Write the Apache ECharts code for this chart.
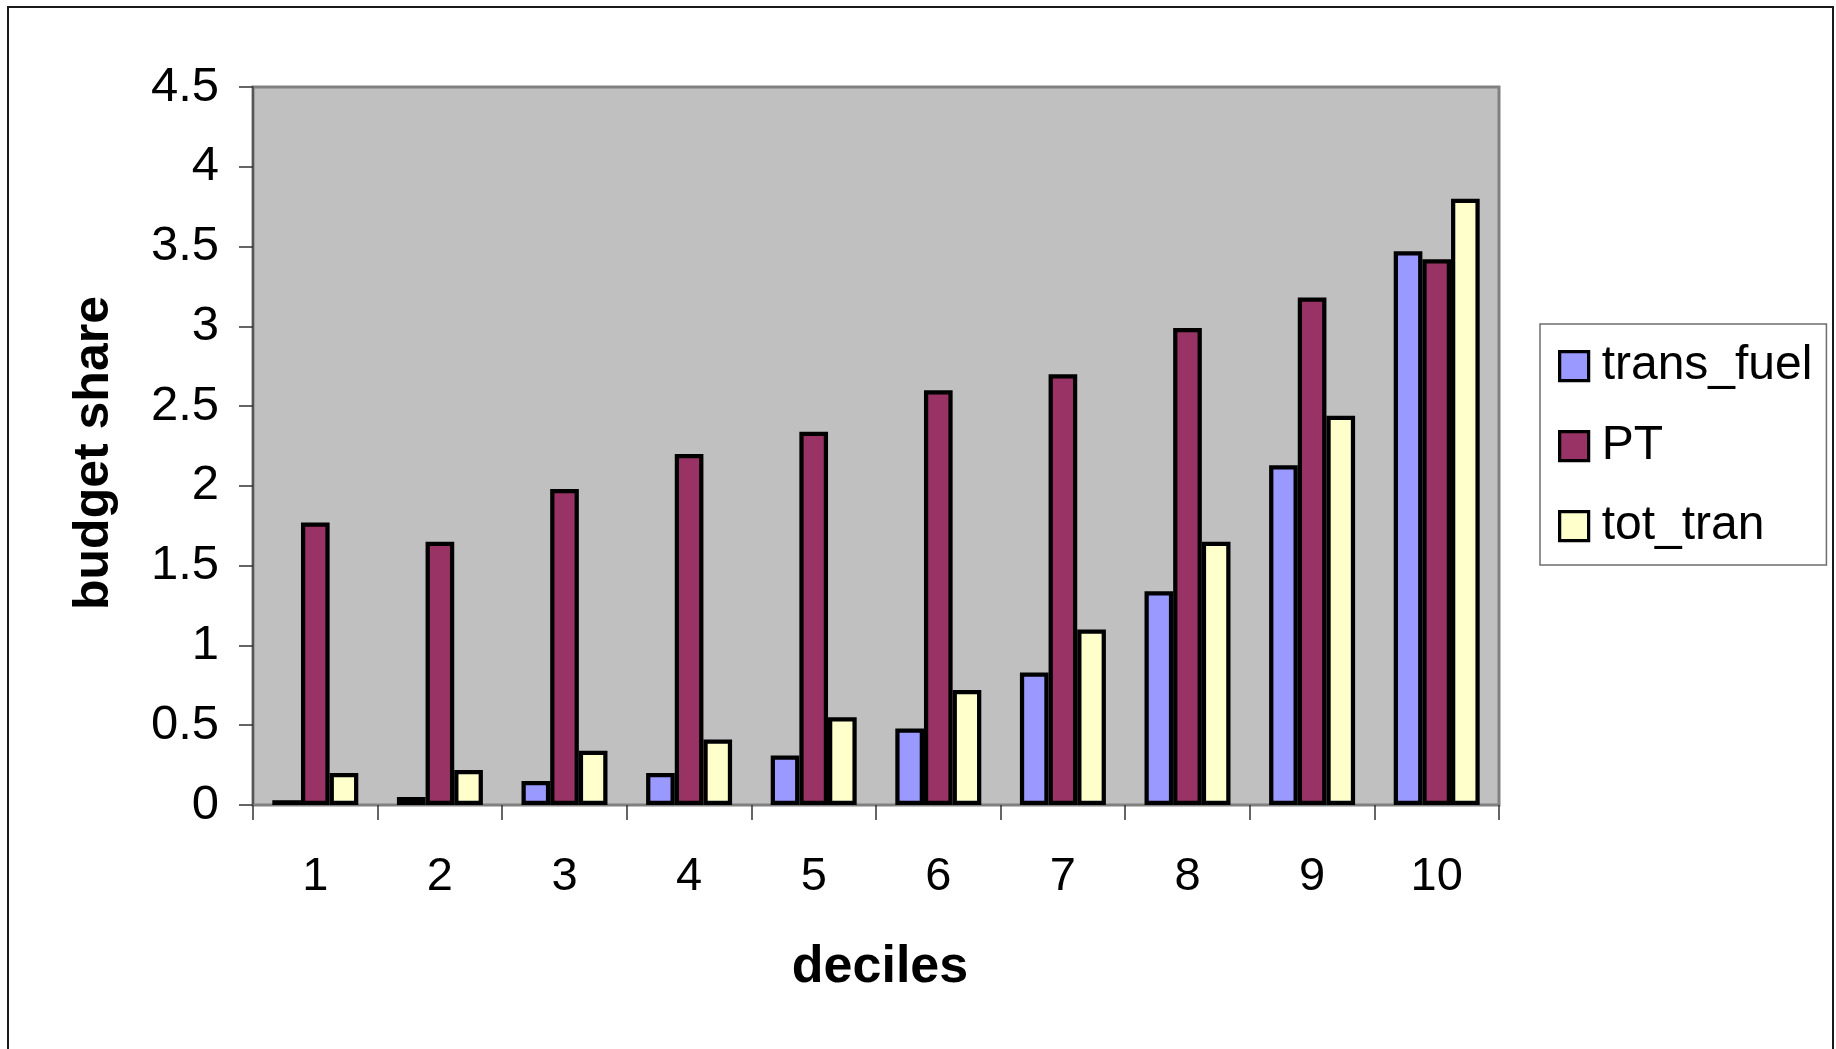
<!DOCTYPE html>
<html>
<head>
<meta charset="utf-8">
<title>budget share by decile</title>
<script src="https://cdn.jsdelivr.net/npm/echarts@6/dist/echarts.min.js"></script>
<style>
  html, body { margin: 0; padding: 0; background: #ffffff; }
  #chart { width: 1836px; height: 1049px; }
</style>
</head>
<body>
<div id="chart"></div>
<script>
// Income deciles on the category axis
const deciles = ['1', '2', '3', '4', '5', '6', '7', '8', '9', '10'];

// Budget share per decile for each spending group
const transFuel = [0.03, 0.05, 0.15, 0.2, 0.31, 0.48, 0.83, 1.34, 2.13, 3.47];
const pt        = [1.77, 1.65, 1.98, 2.2, 2.34, 2.6, 2.7, 2.99, 3.18, 3.42];
const totTran   = [0.2, 0.22, 0.34, 0.41, 0.55, 0.72, 1.1, 1.65, 2.44, 3.8];

// Value-axis tick labels, 0 to 4.5 in steps of 0.5
const yTickLabels = ['0', '0.5', '1', '1.5', '2', '2.5', '3', '3.5', '4', '4.5'];

const FONT = "'Liberation Sans', Arial, sans-serif";

const chart = echarts.init(document.getElementById('chart'), null, { renderer: 'canvas' });

function barSeries(name, data, color) {
  return {
    name: name,
    type: 'bar',
    data: data,
    barGap: '0%',
    barCategoryGap: '31%',
    itemStyle: { color: color, borderColor: '#000000', borderWidth: 4.25 },
    emphasis: { disabled: true }
  };
}

chart.setOption({
  backgroundColor: '#ffffff',
  animation: false,
  textStyle: { fontFamily: FONT },
  graphic: [{
    type: 'rect',
    shape: { x: 8, y: 7, width: 1825, height: 1080 },
    style: { fill: 'none', stroke: '#1a1a1a', lineWidth: 2 },
    silent: true,
    z: -1
  }],
  grid: {
    left: 253, top: 87, width: 1246, height: 718,
    show: true,
    backgroundColor: '#c0c0c0',
    borderColor: '#808080',
    borderWidth: 3
  },
  legend: {
    orient: 'vertical',
    left: 1540, top: 324,
    padding: [17, 14, 14, 18],
    itemWidth: 29, itemHeight: 29,
    itemGap: 30,
    borderColor: '#6e6e6e', borderWidth: 1.5,
    backgroundColor: '#ffffff',
    icon: 'rect',
    itemStyle: { borderColor: '#000000', borderWidth: 3.25 },
    textStyle: { fontFamily: FONT, fontSize: 48, color: '#000000', lineHeight: 50, padding: [0, 0, 0, 8] },
    data: ['trans_fuel', 'PT', 'tot_tran']
  },
  xAxis: {
    type: 'category',
    data: deciles,
    name: 'deciles',
    nameLocation: 'middle',
    nameGap: 137,
    nameTextStyle: { fontFamily: FONT, fontSize: 52, fontWeight: 'bold', color: '#000000', padding: [0, 0, 0, 8] },
    axisLine: { lineStyle: { color: '#808080', width: 2 } },
    axisTick: { show: true, alignWithLabel: false, length: 15, lineStyle: { color: '#333333', width: 1.5 } },
    axisLabel: { fontFamily: FONT, fontSize: 47, color: '#000000', margin: 49 },
    splitLine: { show: false }
  },
  yAxis: {
    type: 'value',
    min: 0, max: 4.5, interval: 0.5,
    name: 'budget share',
    nameLocation: 'middle',
    nameRotate: 90,
    nameGap: 134,
    nameTextStyle: { fontFamily: FONT, fontSize: 50, fontWeight: 'bold', color: '#000000', padding: [0, 14, 0, 0] },
    axisLine: { show: true, lineStyle: { color: '#555555', width: 2 } },
    axisTick: { show: true, length: 14, lineStyle: { color: '#333333', width: 1.5 } },
    axisLabel: {
      fontFamily: FONT, fontSize: 49, color: '#000000', margin: 34,
      formatter: function (v) { return yTickLabels[Math.round(v / 0.5)]; }
    },
    splitLine: { show: false }
  },
  series: [
    barSeries('trans_fuel', transFuel, '#9999ff'),
    barSeries('PT', pt, '#993366'),
    barSeries('tot_tran', totTran, '#ffffcc')
  ]
});
</script>
</body>
</html>
